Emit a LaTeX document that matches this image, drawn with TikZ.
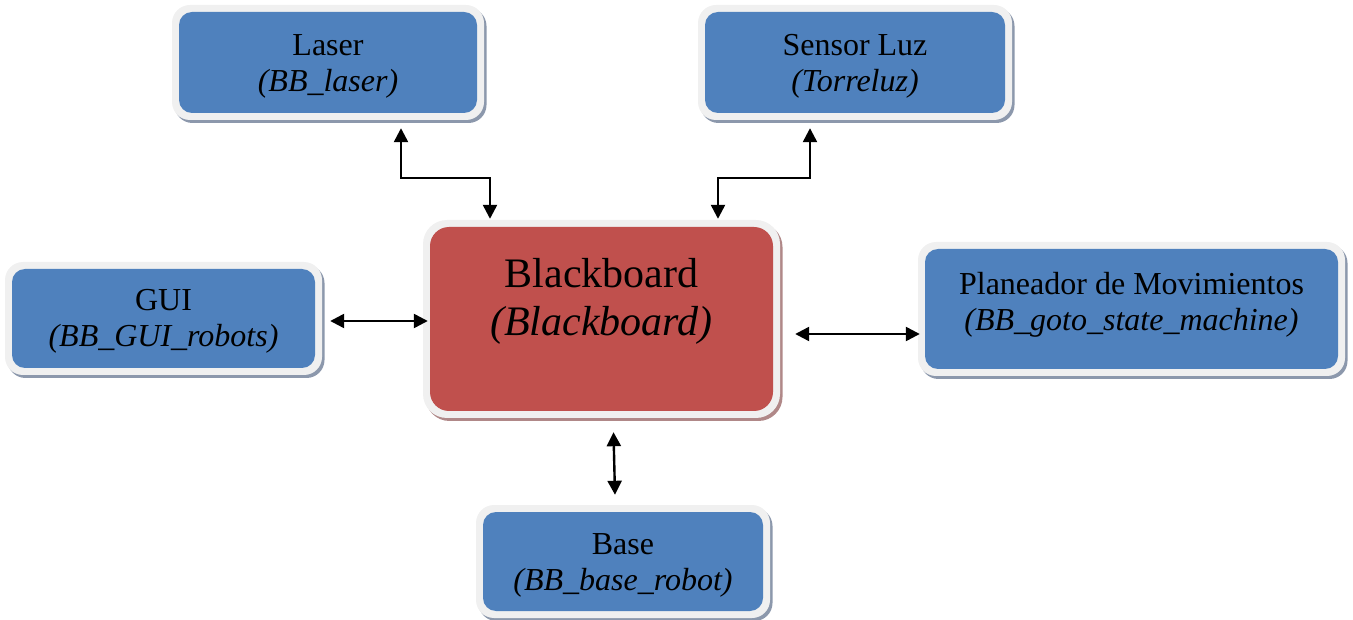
\documentclass[tikz,border=0pt]{standalone}
\usepackage{fontspec}
\setmainfont{Liberation Serif}
\usetikzlibrary{shadows,arrows.meta}
\definecolor{boxblue}{HTML}{4F81BD}
\definecolor{boxred}{HTML}{C0504D}
\definecolor{rim}{HTML}{F0F0F0}
\definecolor{shblue}{HTML}{8C98AC}
\definecolor{shred}{HTML}{B08888}
\tikzset{
  modbox/.style={fill=rim, rounded corners=18pt, inner sep=0pt,
    drop shadow={shadow xshift=2.5pt, shadow yshift=-3pt, fill=shblue, opacity=1},
    path picture={\fill[boxblue, rounded corners=13pt]
      ([shift={(7pt,-7pt)}]path picture bounding box.north west) rectangle
      ([shift={(-7pt,7pt)}]path picture bounding box.south east);}},
  bbbox/.style={fill=rim, rounded corners=24pt, inner sep=0pt,
    drop shadow={shadow xshift=2.5pt, shadow yshift=-3pt, fill=shred, opacity=1},
    path picture={\fill[boxred, rounded corners=19pt]
      ([shift={(7pt,-7pt)}]path picture bounding box.north west) rectangle
      ([shift={(-7pt,7pt)}]path picture bounding box.south east);}},
  lbl/.style={align=center, font=\fontsize{32}{36}\selectfont, inner sep=0pt},
  bbtext/.style={align=center, font=\fontsize{42}{48}\selectfont, inner sep=0pt},
  conn/.style={line width=2.4pt, {Triangle[length=14pt,width=14pt]}-{Triangle[length=14pt,width=14pt]}}
}
\begin{document}
\begin{tikzpicture}[x=1pt,y=-1pt]
\useasboundingbox (0,0) rectangle (1353,620);
\node[modbox, minimum width=312pt, minimum height=115pt] (laser) at (328,62.5) {};
\node[lbl] (laserT) at ([yshift=-4pt]laser.center) {Laser\\\textit{(BB\_laser)}};
\node[modbox, minimum width=314pt, minimum height=115pt] (sensor) at (855,62.5) {};
\node[lbl] (sensorT) at ([yshift=-4pt]sensor.center) {Sensor Luz\\\textit{(Torreluz)}};
\node[modbox, minimum width=317pt, minimum height=113pt] (gui) at (163.5,318.5) {};
\node[lbl] (guiT) at ([yshift=-3pt]gui.center) {GUI\\\textit{(BB\_GUI\_robots)}};
\node[bbbox, minimum width=357pt, minimum height=198pt] (bb) at (601.5,319) {};
\node[bbtext] (bbt) at (601.5,301) {Blackboard\\\textit{(Blackboard)}};
\node[modbox, minimum width=427pt, minimum height=134pt] (plan) at (1131.5,309) {};
\node[lbl] (planT) at ([yshift=4pt]plan.center) {Planeador de Movimientos\\\textit{(BB\_goto\_state\_machine)}};
\node[modbox, minimum width=294pt, minimum height=113pt] (base) at (623,561.5) {};
\node[lbl] (baseT) at ([yshift=-4pt]base.center) {Base\\\textit{(BB\_base\_robot)}};
\draw[conn] ([xshift=73pt,yshift=-8pt]laser.south) -- ++(0,50) -| ([xshift=-111.5pt,yshift=1pt]bb.north);
\draw[conn] ([xshift=-45pt,yshift=-8pt]sensor.south) -- ++(0,50) -| ([xshift=116.5pt,yshift=1pt]bb.north);
\draw[conn] ([xshift=8pt,yshift=-2.5pt]gui.east) -- ([xshift=5pt,yshift=-2pt]bb.west);
\draw[conn] ([xshift=15pt,yshift=-15pt]bb.east) -- ([xshift=2pt,yshift=-25pt]plan.west);
\draw[conn] ([xshift=12pt,yshift=-14pt]bb.south) -- ([xshift=-8pt,yshift=10pt]base.north);
\end{tikzpicture}
\end{document}
